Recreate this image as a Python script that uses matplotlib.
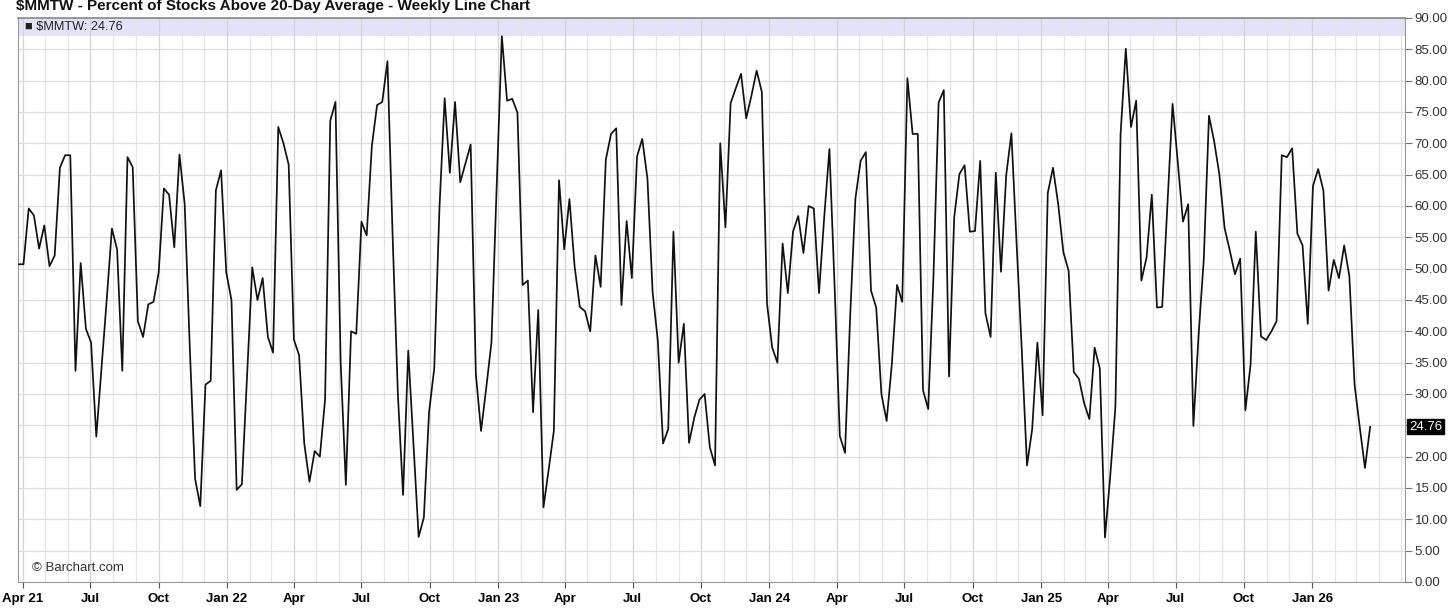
import matplotlib
matplotlib.use("Agg")
import matplotlib.pyplot as plt
import matplotlib.dates as mdates
from matplotlib.ticker import FixedLocator, FuncFormatter
import matplotlib.transforms as mtransforms
import pandas as pd

plt.rcParams['font.family'] = ['Liberation Sans', 'DejaVu Sans']

# ---- data (weekly closes) ----
start_date = "2021-03-26"
vals_a = [50.7, 50.7, 59.6, 58.5, 53.2, 56.9, 50.4, 52.1, 66.1, 68.1,
          68.1, 33.7, 50.9, 40.4, 38.2, 23.2, 34.0, 45.0, 56.4, 53.1,
          33.7, 67.8, 66.2, 41.6, 39.1, 44.3, 44.7, 49.4, 62.8, 61.8,
          53.4, 68.2, 60.3, 37.0, 16.5, 12.1, 31.5, 32.1, 62.5, 65.7,
          49.4, 45.0, 14.7, 15.6, 33.0, 50.2, 45.0, 48.5, 39.1, 36.6]
vals_b = [72.6, 70.0, 66.6, 38.7, 36.2, 22.1, 16.0, 20.9, 20.0, 29.1,
          73.6, 76.6, 35.0, 15.5, 40.0, 39.6, 57.5, 55.3, 69.6, 76.1,
          76.6, 83.1, 55.0, 30.0, 13.9, 36.9, 22.1, 7.2, 10.3, 27.1,
          34.1, 59.7, 77.2, 65.3, 76.6, 63.8, 66.8, 69.8, 33.2, 24.1,
          31.0, 38.2, 63.0, 87.1, 76.8, 77.1, 74.9, 47.4, 48.1, 27.1]
vals_c = [43.4, 11.9, 17.9, 24.1, 64.1, 53.1, 61.1, 50.3, 43.9, 43.2,
          40.0, 52.1, 47.1, 67.4, 71.5, 72.4, 44.2, 57.6, 48.5, 67.9,
          70.7, 64.4, 46.2, 38.5, 22.1, 24.4, 55.9, 35.0, 41.2, 22.2,
          26.2, 29.1, 30.0, 21.5, 18.6, 70.0, 56.6, 76.4, 78.8, 81.1,
          74.0, 77.6, 81.6, 78.2, 44.4, 37.4, 35.0, 54.0, 46.1, 55.9]
vals_d = [58.4, 52.5, 60.0, 59.6, 46.1, 58.2, 69.1, 47.1, 23.3, 20.6,
          42.6, 61.2, 67.2, 68.6, 46.5, 43.8, 30.0, 25.7, 34.7, 47.4,
          44.7, 80.4, 71.5, 71.5, 30.6, 27.6, 48.5, 76.5, 78.5, 32.8,
          58.2, 65.1, 66.5, 55.9, 56.0, 67.2, 42.9, 39.1, 65.3, 49.5,
          64.9, 71.6, 54.0, 37.0, 18.6, 24.4, 38.2, 26.6, 62.1, 66.1]
vals_e = [60.3, 52.6, 49.7, 33.5, 32.4, 28.5, 26.0, 37.4, 34.1, 7.1,
          16.8, 27.9, 71.5, 85.1, 72.6, 76.8, 48.1, 51.8, 61.8, 43.8,
          43.9, 60.0, 76.3, 67.0, 57.5, 60.3, 24.9, 39.4, 51.5, 74.4,
          70.3, 65.0, 56.5, 52.9, 49.1, 51.6, 27.4, 34.7, 55.9, 39.2,
          38.6, 40.0, 41.6, 68.1, 67.8, 69.2, 55.6, 53.7, 41.2, 63.2]
vals_f = [65.9, 62.5, 46.5, 51.4, 48.5, 53.7, 48.8, 31.5, 24.7, 18.2, 24.76]

values = vals_a + vals_b + vals_c + vals_d + vals_e + vals_f
dates = pd.date_range(start_date, periods=len(values), freq="7D")
y_ticks = list(range(0, 95, 5))
symbol = "$MMTW"
title = symbol + " - Percent of Stocks Above 20-Day Average - Weekly Line Chart"

# ---- figure ----
W, H = 1456, 611
fig = plt.figure(figsize=(W / 100, H / 100), dpi=100)
ax_l, ax_r, ax_t, ax_b = 18, 1405, 18, 582
ax = fig.add_axes([ax_l / W, 1 - ax_b / H, (ax_r - ax_l) / W, (ax_b - ax_t) / H])

ax.plot(dates, values, color='#111111', lw=1.25, zorder=4)

x0 = mdates.date2num(dates[0])
ax.set_xlim(x0 - 0.4, x0 + 266.7 * 7)
ax.set_ylim(0, 90)

# legend band
ax.axhspan(87.1, 90, color='#e2e2f8', zorder=0, lw=0)

# x ticks: quarterly labels within the data range, monthly grid
quarters = [d for d in pd.date_range("2021-04-01", dates[-1], freq="MS") if d.month in (1, 4, 7, 10)]
ax.xaxis.set_major_locator(FixedLocator(mdates.date2num(quarters)))
ax.xaxis.set_minor_locator(mdates.MonthLocator())
def xfmt(x, pos):
    d = mdates.num2date(x)
    if d.month == 1 or (d.year == 2021 and d.month == 4):
        return d.strftime('%b %y')
    return d.strftime('%b')
ax.xaxis.set_major_formatter(FuncFormatter(xfmt))
ax.grid(True, which='minor', axis='x', color='#e4e4e4', lw=0.9, zorder=1)
ax.grid(True, which='major', axis='x', color='#d4d4d4', lw=0.9, zorder=1)
ax.yaxis.set_major_locator(FixedLocator(y_ticks))
ax.grid(True, which='major', axis='y', color='#dddddd', lw=0.9, zorder=1)
ax.set_axisbelow(True)

ax.yaxis.tick_right()
ax.yaxis.set_major_formatter(FuncFormatter(lambda v, p: '' if abs(v - 25) < 1e-6 else f"{v:.2f}"))
ax.tick_params(axis='y', which='major', length=5, width=0.8, color='#777777',
               labelsize=9.5, labelcolor='#333333', pad=2, direction='out')
ax.tick_params(axis='x', which='major', length=4, width=0.8, color='#555555',
               labelsize=9.5, pad=4, direction='out')
ax.tick_params(axis='x', which='minor', length=0)
for lab in ax.get_xticklabels():
    lab.set_fontweight('bold')

for s in ['left', 'bottom', 'right']:
    ax.spines[s].set_color('#999999')
    ax.spines[s].set_linewidth(0.8)
ax.spines['top'].set_color('#888888')
ax.spines['top'].set_linewidth(1.2)

# texts
fig.text(16 / W, 1 - 6 / H, title.replace('$', r'\$'), fontsize=11, fontweight='bold',
         ha='left', va='center', color='#111111')
ax.text(7 / (ax_r - ax_l), 88.55, "\u25a0 " + symbol.replace('$', r'\$') + f": {values[-1]:.2f}",
        transform=mtransforms.blended_transform_factory(ax.transAxes, ax.transData),
        fontsize=9.2, ha='left', va='center', color='#222222', zorder=5)
ax.text(14 / (ax_r - ax_l), 14 / (ax_b - ax_t), "\u00a9 Barchart.com", transform=ax.transAxes,
        fontsize=9.5, ha='left', va='center', color='#333333', zorder=5)
ax.text(1 + 4 / (ax_r - ax_l), values[-1], f"{values[-1]:.2f}",
        transform=mtransforms.blended_transform_factory(ax.transAxes, ax.transData),
        fontsize=9.5, ha='left', va='center', color='white', zorder=6, clip_on=False,
        bbox=dict(boxstyle='square,pad=0.12', fc='black', ec='black'))

fig.savefig('out.png', dpi=100)
